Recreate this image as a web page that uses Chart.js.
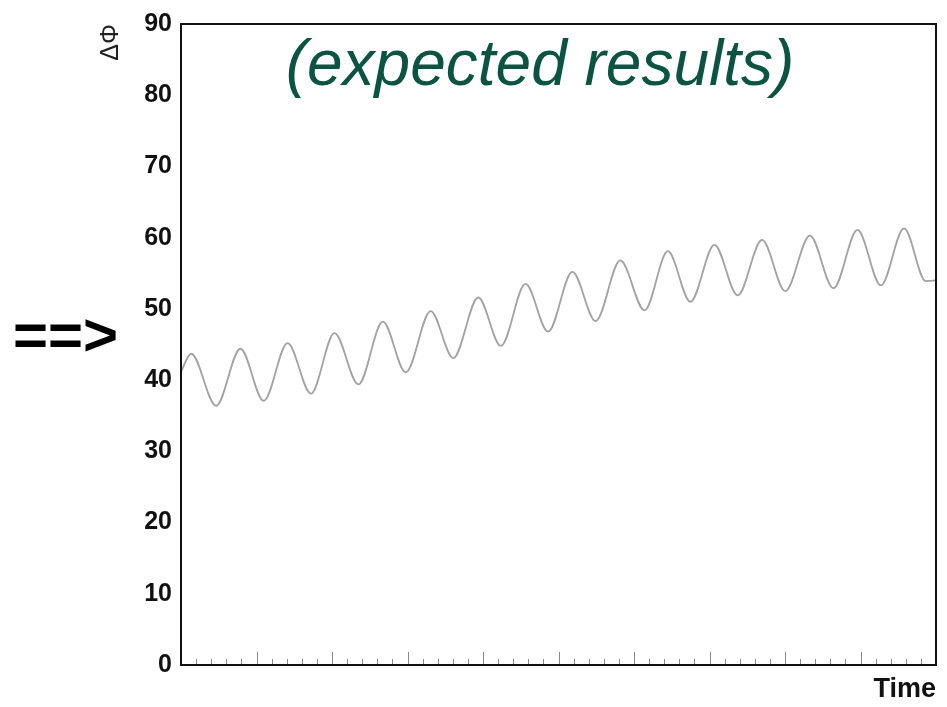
<!DOCTYPE html>
<html>
<head>
<meta charset="utf-8">
<title>Delta Phi vs Time</title>
<script src="https://cdn.jsdelivr.net/npm/chart.js@4.4.1/dist/chart.umd.min.js"></script>
<style>
  html, body { margin: 0; padding: 0; background: #fff; }
  #wrap { position: relative; width: 947px; height: 707px; }
  #phaseChart { position: absolute; left: 0; top: 0; }
  .note {
    position: absolute;
    font-family: "Liberation Sans", Arial, Helvetica, sans-serif;
    white-space: nowrap;
  }
  #expected {
    left: 540px; top: 31px;
    transform: translateX(-50%);
    font-size: 64px; line-height: 64px;
    font-style: italic;
    color: #0b5343;
  }
  #arrow {
    left: 13px; top: 305px;
    font-size: 60px; line-height: 60px;
    font-weight: bold;
    color: #000;
  }
</style>
</head>
<body>
<div id="wrap">
  <canvas id="phaseChart" width="947" height="707"></canvas>
  <div id="expected" class="note">(expected results)</div>
  <div id="arrow" class="note">==&gt;</div>
</div>
<script>
// phase difference readings: peaks and troughs of the oscillation
const timeVals = [0, 1.35, 4.65, 7.87, 10.95, 14.12, 17.21, 20.33, 23.50, 26.73, 29.77,
  33.07, 36.06, 39.37, 42.37, 45.63, 48.62, 51.84, 54.92, 58.19, 61.40,
  64.48, 67.48, 70.65, 73.73, 76.96, 80.04, 83.30, 86.42, 89.60, 92.69,
  95.77, 98.64, 100];
const phiVals = [41.2, 43.7, 36.4, 44.4, 37.1, 45.2, 38.1, 46.6, 39.4, 48.2, 41.1,
  49.7, 43.1, 51.6, 44.8, 53.5, 46.8, 55.2, 48.3, 56.8, 49.8,
  58.1, 51.0, 59.0, 51.9, 59.7, 52.5, 60.3, 52.9, 61.1, 53.3,
  61.3, 53.9, 54.0];
const yTicks = [0, 10, 20, 30, 40, 50, 60, 70, 80, 90];

Chart.defaults.font.family = '"Liberation Sans", Arial, Helvetica, sans-serif';
Chart.defaults.color = '#111';

// frame around the plot plus the small inward ticks along the time axis
const frameAndTicks = {
  id: 'frameAndTicks',
  afterDraw(chart) {
    const { ctx, chartArea: a } = chart;
    const xs = chart.scales.x;
    ctx.save();
    ctx.strokeStyle = '#888';
    ctx.lineWidth = 1;
    for (let t = 2; t < 100; t += 2) {
      const px = Math.round(xs.getPixelForValue(t)) + 0.5;
      const len = t % 10 === 0 ? 13 : 6;
      ctx.beginPath();
      ctx.moveTo(px, a.bottom);
      ctx.lineTo(px, a.bottom - len);
      ctx.stroke();
    }
    ctx.strokeStyle = '#111';
    ctx.lineWidth = 2;
    ctx.strokeRect(a.left, a.top, a.right - a.left, a.bottom - a.top);
    ctx.restore();
  }
};

new Chart(document.getElementById('phaseChart'), {
  type: 'line',
  data: {
    datasets: [{
      data: timeVals.map((t, i) => ({ x: t, y: phiVals[i] })),
      borderColor: '#a2a2a2',
      borderWidth: 1.8,
      pointRadius: 0,
      cubicInterpolationMode: 'monotone',
      fill: false
    }]
  },
  options: {
    responsive: false,
    animation: false,
    layout: { padding: { top: 22, right: 11, left: 0, bottom: 0 } },
    plugins: {
      legend: { display: false },
      tooltip: { enabled: false }
    },
    scales: {
      x: {
        type: 'linear',
        min: 0,
        max: 100,
        grid: { display: false, drawTicks: false },
        border: { display: false },
        ticks: { display: false },
        title: {
          display: true,
          text: 'Time',
          align: 'end',
          color: '#111',
          font: { size: 27, weight: 'bold' },
          padding: { top: 0, bottom: 1 }
        },
        afterFit(scale) { scale.height = 42; }
      },
      y: {
        min: 0,
        max: 90,
        grid: { display: false, drawTicks: false },
        border: { display: false },
        afterBuildTicks(scale) { scale.ticks = yTicks.map(v => ({ value: v })); },
        ticks: {
          padding: 9,
          color: '#111',
          font: { size: 25, weight: 'bold' }
        },
        title: {
          display: true,
          text: 'ΔΦ',
          align: 'end',
          color: '#222',
          font: { size: 25 },
          padding: { top: 96, bottom: 0 }
        },
        afterFit(scale) { scale.width = 181; }
      }
    }
  },
  plugins: [frameAndTicks]
});
</script>
</body>
</html>
